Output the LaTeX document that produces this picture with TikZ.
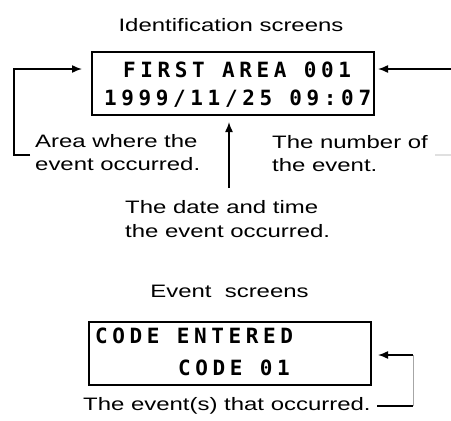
\documentclass[tikz,border=0pt]{standalone}
\usepackage{fontspec}
\setmainfont{Liberation Sans}
\newfontfamily\labfont[FakeStretch=1.33]{Liberation Sans}
\newfontfamily\lcdfont[LetterSpace=22]{DejaVu Sans Mono}
\usetikzlibrary{arrows.meta}
\tikzset{
  lab/.style={inner sep=0pt, font=\labfont\fontsize{18}{20}\selectfont},
  lcd/.style={inner sep=0pt, anchor=base west, font=\lcdfont\bfseries\fontsize{21}{21}\selectfont},
  screen/.style={draw, line width=1.6pt, minimum width=282pt, minimum height=63pt, inner sep=0pt},
  conn/.style={line width=1.5pt},
  arr/.style={conn, -{Latex[length=10pt,width=8pt]}}
}
\begin{document}
\begin{tikzpicture}[x=1pt,y=-1pt]
\useasboundingbox (0,0) rectangle (451,421);
% titles
\node[lab, anchor=base] (t1) at (231,31) {Identification screens};
\node[lab, anchor=base] (t2) at (229.5,297) {Event\ \ screens};
% screen 1
\node[screen] (box1) at (233,83.5) {};
\node[lcd] (s1a) at (123,77) {FIRST AREA 001};
\node[lcd] (s1b) at (104,105) {1999/11/25 09:07};
% screen 2
\node[screen] (box2) at (230,353.5) {};
\node[lcd] (s2a) at (95,343) {CODE ENTERED};
\node[lcd] (s2b) at (178,375) {CODE 01};
% labels
\node[lab, anchor=base west] (a1) at (35,147) {Area where the};
\node[lab, anchor=base west] (a2) at (35,170) {event occurred.};
\node[lab, anchor=base west] (n1) at (272,148) {The number of};
\node[lab, anchor=base west] (n2) at (272,171) {the event.};
\node[lab, anchor=base west] (d1) at (125,213) {The date and time};
\node[lab, anchor=base west] (d2) at (125,237) {the event occurred.};
\node[lab, anchor=base west] (e1) at (83,410) {The event(s) that occurred.};
% coordinates
\coordinate (lb) at (30,155);
\coordinate (lc) at (14,155);
\coordinate (lt) at (14,69);
\coordinate (ltip) at (82,69);
\coordinate (rs) at (451,69);
\coordinate (rtip) at (378,69);
\coordinate (ms) at (229,188);
\coordinate (mtip) at (229,122);
\coordinate (g1) at (435,155);
\coordinate (g2) at (451,155);
\coordinate (bs) at (377,406);
\coordinate (bc) at (413,406);
\coordinate (bt) at (413,355);
\coordinate (btip) at (378,355);
% connectors
\draw[arr] (lb) -- (lc) -- (lt) -- (ltip);
\draw[arr] (rs) -- (rtip);
\draw[arr] (ms) -- (mtip);
\draw[line width=1.2pt, black!12] (g1) -- (g2);
\draw[conn] (bs) -- (bc);
\draw[line width=1pt, black!35] (bc) -- (bt);
\draw[arr] (bt) -- (btip);
\end{tikzpicture}
\end{document}
